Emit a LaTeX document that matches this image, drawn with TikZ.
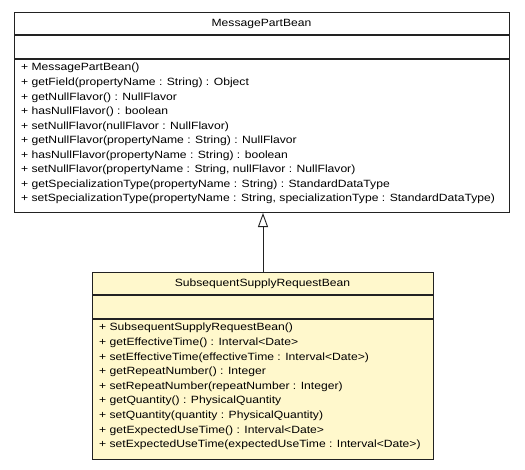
\documentclass[tikz,border=0pt]{standalone}
\usepackage{fontspec}
\setmainfont{Liberation Sans}[FakeStretch=1.155]
\usetikzlibrary{arrows.meta}
\definecolor{classfill}{HTML}{FFF8CC}
\definecolor{lineclr}{HTML}{222222}
\tikzset{
  umlbox/.style={draw=lineclr, line width=1pt, rectangle, inner sep=0pt, anchor=north west},
  sepline/.style={draw=lineclr, line width=1.5pt},
  member/.style={anchor=west, inner sep=0pt, font=\fontsize{10.5}{12}\selectfont},
  ctitle/.style={anchor=center, inner sep=0pt, font=\fontsize{10.5}{12}\selectfont},
  inherit/.style={draw=lineclr, line width=0.9pt, -{Triangle[open, width=10pt, length=14pt]}}
}
\begin{document}
\begin{tikzpicture}[x=1pt, y=-1pt]
\useasboundingbox[fill=white] (0,0) rectangle (525,469);
% MessagePartBean
\node[umlbox, fill=white, minimum width=495pt, minimum height=200pt] (msg) at (14,12) {};
\draw[sepline] (14,35) -- (509,35);
\draw[sepline] (14,59) -- (509,59);
\node[ctitle] (msgtitle) at (261.5,23.5) {MessagePartBean};
\foreach \t [count=\i from 0] in {
  {+ MessagePartBean()},
  {+ getField(propertyName : String) : Object},
  {+ getNullFlavor() : NullFlavor},
  {+ hasNullFlavor() : boolean},
  {+ setNullFlavor(nullFlavor : NullFlavor)},
  {+ getNullFlavor(propertyName : String) : NullFlavor},
  {+ hasNullFlavor(propertyName : String) : boolean},
  {+ setNullFlavor(propertyName : String, nullFlavor : NullFlavor)},
  {+ getSpecializationType(propertyName : String) : StandardDataType},
  {+ setSpecializationType(propertyName : String, specializationType : StandardDataType)}}
  \node[member] (msgm\i) at (21, 68.2+14.55*\i) {\t};
% SubsequentSupplyRequestBean
\node[umlbox, fill=classfill, minimum width=341pt, minimum height=187pt] (sub) at (92,272) {};
\draw[sepline] (92,295) -- (433,295);
\draw[sepline] (92,319) -- (433,319);
\node[ctitle] (subtitle) at (262.5,283.5) {SubsequentSupplyRequestBean};
\foreach \t [count=\i from 0] in {
  {+ SubsequentSupplyRequestBean()},
  {+ getEffectiveTime() : Interval<Date>},
  {+ setEffectiveTime(effectiveTime : Interval<Date>)},
  {+ getRepeatNumber() : Integer},
  {+ setRepeatNumber(repeatNumber : Integer)},
  {+ getQuantity() : PhysicalQuantity},
  {+ setQuantity(quantity : PhysicalQuantity)},
  {+ getExpectedUseTime() : Interval<Date>},
  {+ setExpectedUseTime(expectedUseTime : Interval<Date>)}}
  \node[member] (subm\i) at (99, 328.2+14.6*\i) {\t};
% generalization
\draw[inherit] (sub.north) -- (sub.north |- msg.south);
\end{tikzpicture}
\end{document}
